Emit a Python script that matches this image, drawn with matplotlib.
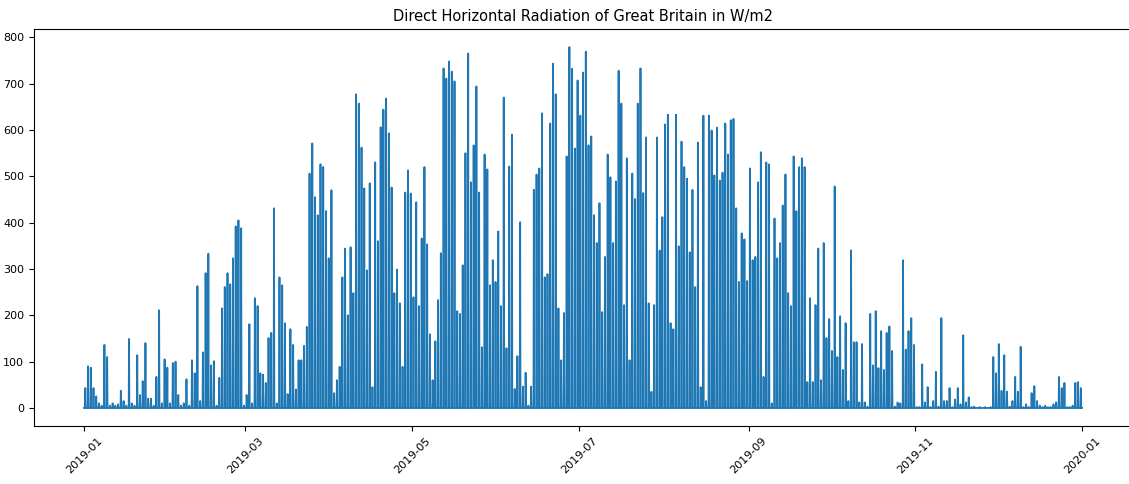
import matplotlib
matplotlib.use('Agg')
import matplotlib.pyplot as plt
import matplotlib.dates as mdates
import pandas as pd

# daily peak of direct horizontal radiation (W/m2), month by month
jan = [43, 90, 87, 43, 25, 10, 5, 136, 110, 5, 10, 5, 8, 37, 15, 5, 149, 10, 5, 114,
       28, 58, 140, 20, 20, 5, 67, 211, 10, 105, 87]
feb = [10, 97, 100, 28, 5, 10, 62, 5, 103, 75, 263, 15, 120, 291, 333, 92, 101, 5, 65, 215,
       261, 291, 267, 323, 392, 405, 388, 5]
mar = [28, 181, 10, 237, 220, 75, 72, 54, 151, 162, 431, 10, 282, 265, 183, 30, 170, 136, 40, 103,
       103, 134, 175, 506, 571, 455, 416, 526, 520, 425, 323]
apr = [470, 32, 60, 89, 282, 344, 200, 347, 248, 677, 657, 562, 474, 297, 485, 45, 530, 360, 606, 644,
       668, 593, 476, 248, 299, 226, 89, 465, 513, 463]
may = [239, 444, 220, 366, 520, 353, 159, 60, 144, 233, 334, 733, 711, 748, 726, 705, 209, 203, 308, 550,
       765, 487, 567, 694, 465, 131, 547, 515, 265, 319, 272]
jun = [381, 220, 670, 129, 521, 590, 41, 112, 401, 46, 76, 5, 46, 471, 504, 517, 636, 282, 289, 614,
       743, 677, 215, 103, 205, 543, 779, 732, 560, 707]
jul = [631, 724, 769, 567, 586, 416, 356, 442, 207, 326, 547, 498, 356, 489, 728, 657, 222, 539, 103, 506,
       451, 657, 733, 464, 584, 226, 35, 222, 584, 340, 412]
aug = [612, 633, 183, 170, 633, 349, 575, 520, 495, 336, 471, 261, 573, 45, 631, 15, 631, 599, 502, 605,
       491, 508, 614, 547, 621, 624, 431, 272, 377, 364, 274]
sep = [517, 319, 326, 487, 552, 67, 530, 526, 10, 409, 323, 356, 437, 504, 248, 220, 543, 425, 520, 539,
       520, 56, 237, 56, 222, 344, 60, 356, 151, 192]
oct_ = [123, 478, 110, 198, 82, 183, 15, 340, 142, 142, 12, 138, 12, 3, 203, 92, 209, 86, 166, 82,
        162, 176, 123, 3, 12, 10, 319, 126, 166, 194, 136]
nov = [2, 2, 94, 12, 45, 2, 15, 78, 3, 194, 15, 15, 43, 2, 18, 43, 8, 157, 12, 23,
       2, 3, 0, 2, 0, 2, 0, 2, 110, 75]
dec = [138, 37, 114, 35, 3, 15, 67, 35, 132, 2, 8, 2, 32, 47, 15, 5, 2, 5, 2, 2,
       8, 12, 67, 43, 54, 2, 2, 5, 54, 56, 43]

peaks = jan + feb + mar + apr + may + jun + jul + aug + sep + oct_ + nov + dec
days = pd.date_range('2019-01-01', periods=len(peaks), freq='D')

# night zero, midday spike
times = []
vals = []
for d, p in zip(days, peaks):
    times += [d, d + pd.Timedelta(hours=9), d + pd.Timedelta(hours=12), d + pd.Timedelta(hours=15)]
    vals += [0, 0, p, 0]
times.append(pd.Timestamp('2019-12-31 23:00'))
vals.append(0)

fig = plt.figure(figsize=(11.29, 4.84), dpi=100)
ax = fig.add_axes([34 / 1129, 1 - 426 / 484, (1132 - 34) / 1129, (426 - 29) / 484])
ax.plot(times, vals, color='#1f77b4', lw=1.3)

ax.xaxis.set_major_locator(mdates.MonthLocator(interval=2))
ax.xaxis.set_major_formatter(mdates.DateFormatter('%Y-%m'))
ax.set_yticks(range(0, 801, 100))
plt.xticks(rotation=45)
for lab in ax.get_xticklabels() + ax.get_yticklabels():
    lab.set_fontsize(8)
ax.set_title('Direct Horizontal Radiation of Great Britain in W/m2', fontsize=10.5)

fig.savefig('out.png', dpi=100)
